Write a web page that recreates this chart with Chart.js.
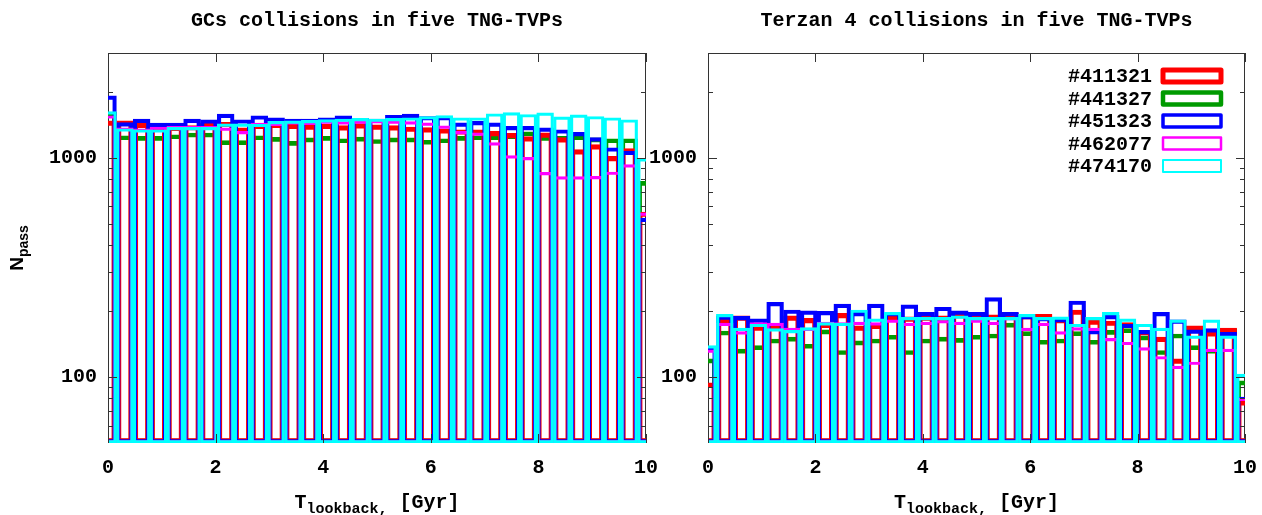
<!DOCTYPE html>
<html>
<head>
<meta charset="utf-8">
<script src="https://cdn.jsdelivr.net/npm/chart.js@4/dist/chart.umd.min.js"></script>
<style>
  body { margin: 0; background: #fff; }
  #wrap { position: relative; width: 1262px; height: 515px; }
  canvas { position: absolute; top: 0; }
  #gcChart { left: 0; }
  #terChart { left: 631px; }
</style>
</head>
<body>
<div id="wrap">
  <canvas id="gcChart" width="660" height="515"></canvas>
  <canvas id="terChart" width="631" height="515"></canvas>
</div>
<script>
// bin centres in Gyr (bin width 0.3125, end bins are half-cut by the x range)
const binCentres = [0, 0.3125, 0.625, 0.9375, 1.25, 1.5625, 1.875, 2.1875, 2.5, 2.8125,
  3.125, 3.4375, 3.75, 4.0625, 4.375, 4.6875, 5, 5.3125, 5.625, 5.9375,
  6.25, 6.5625, 6.875, 7.1875, 7.5, 7.8125, 8.125, 8.4375, 8.75, 9.0625,
  9.375, 9.6875, 10];

const haloIds = ['#411321', '#441327', '#451323', '#462077', '#474170'];
const haloColours = ['#ff0000', '#009a00', '#0000ff', '#ff00ff', '#00ffff'];

// GCs collisions, N_pass per bin
const gc411321 = [1470, 1470, 1438, 1390, 1390, 1402, 1438, 1450, 1367, 1420, 1438, 1420, 1410, 1420, 1400, 1430, 1410,
  1400, 1380, 1370, 1354, 1340, 1340, 1317, 1290, 1246, 1298, 1233, 1087, 1146, 1014, 1100, 565];
const gc441327 = [1610, 1258, 1250, 1250, 1272, 1295, 1295, 1195, 1195, 1258, 1237, 1186, 1230, 1250, 1220, 1240, 1210,
  1230, 1230, 1200, 1220, 1250, 1258, 1258, 1272, 1313, 1250, 1250, 1258, 1230, 1220, 1220, 780];
const gc451323 = [1914, 1445, 1499, 1438, 1438, 1499, 1488, 1580, 1488, 1552, 1520, 1500, 1500, 1520, 1550, 1510, 1500,
  1560, 1580, 1540, 1540, 1440, 1463, 1440, 1388, 1388, 1367, 1340, 1303, 1233, 1110, 1070, 530];
const gc462077 = [1552, 1367, 1354, 1380, 1388, 1388, 1388, 1367, 1317, 1438, 1438, 1460, 1450, 1470, 1460, 1470, 1480,
  1470, 1460, 1440, 1397, 1317, 1298, 1170, 1021, 1003, 857, 820, 820, 822, 860, 930, 560];
const gc474170 = [1620, 1354, 1340, 1340, 1373, 1373, 1373, 1426, 1426, 1420, 1463, 1470, 1480, 1490, 1500, 1510, 1500,
  1510, 1520, 1540, 1556, 1520, 1520, 1585, 1605, 1573, 1600, 1535, 1568, 1540, 1520, 1488, 990];

// Terzan 4 collisions, N_pass per bin
const ter411321 = [94, 185, 190, 171, 174, 190, 185, 176, 195, 171, 174, 190, 188, 190, 190, 195, 192,
  192, 195, 193, 193, 185, 202, 182, 180, 177, 163, 152, 121, 171, 161, 167, 78];
const ter441327 = [121, 162, 134, 139, 149, 152, 141, 164, 132, 146, 149, 155, 132, 149, 152, 150, 155,
  157, 176, 161, 147, 149, 161, 147, 163, 166, 154, 132, 157, 139, 134, 166, 96];
const ter451323 = [137, 190, 189, 184, 219, 202, 200, 199, 215, 197, 215, 197, 213, 197, 208, 200, 197,
  230, 197, 191, 187, 185, 222, 163, 191, 174, 163, 197, 182, 164, 166, 160, 81];
const ter462077 = [133, 176, 161, 177, 176, 167, 167, 178, 177, 178, 177, 182, 176, 178, 181, 178, 182,
  178, 187, 167, 176, 161, 168, 167, 150, 144, 136, 124, 112, 117, 134, 134, 80];
const ter474170 = [139, 193, 167, 174, 166, 163, 168, 177, 176, 202, 184, 197, 187, 187, 187, 190, 187,
  187, 187, 193, 187, 188, 174, 187, 197, 184, 174, 167, 182, 154, 182, 154, 103];

const xTicks = [0, 2, 4, 6, 8, 10];
const yMajorTicks = [100, 1000];
const yMinorTicks = [60, 70, 80, 90, 200, 300, 400, 500, 600, 700, 800, 900, 2000];

// line widths and stacking (green under red, cyan on top)
const lineWidths = [4.5, 4, 3.5, 2.5, 2.5];
const drawOrder = [4, 5, 3, 2, 1];

const MONO = '"Liberation Mono", "DejaVu Sans Mono", monospace';
const tickFont = { family: MONO, size: 20, weight: 'bold' };

function makeDatasets(series) {
  return series.map((vals, i) => ({
    label: haloIds[i],
    data: binCentres.map((x, k) => ({ x: x, y: vals[k] })),
    borderColor: haloColours[i],
    backgroundColor: 'rgba(0,0,0,0)',
    borderWidth: lineWidths[i],
    borderSkipped: false,
    grouped: false,
    order: drawOrder[i],
    clip: 0,
    barPercentage: 1,
    categoryPercentage: 1
  }));
}

// border box and inward gnuplot-style ticks
const frameTicks = {
  id: 'frameTicks',
  beforeDatasetsDraw(chart) {
    const { ctx, chartArea: a } = chart;
    ctx.save();
    ctx.strokeStyle = '#333';
    ctx.lineWidth = 1;
    ctx.strokeRect(a.left + 0.5, a.top + 0.5, a.right - a.left - 1, a.bottom - a.top - 1);
    ctx.restore();
  },
  afterDatasetsDraw(chart) {
    const { ctx, chartArea: a, scales } = chart;
    ctx.save();
    ctx.strokeStyle = '#333';
    ctx.lineWidth = 1;
    ctx.beginPath();
    const yTick = (v, len) => {
      const py = Math.round(scales.y.getPixelForValue(v)) + 0.5;
      ctx.moveTo(a.left, py); ctx.lineTo(a.left + len, py);
      ctx.moveTo(a.right, py); ctx.lineTo(a.right - len, py);
    };
    yMajorTicks.forEach(v => yTick(v, 9));
    yMinorTicks.forEach(v => yTick(v, 5));
    xTicks.forEach(v => {
      const px = Math.round(scales.x.getPixelForValue(v)) + 0.5;
      ctx.moveTo(px, a.top); ctx.lineTo(px, a.top + 9);
      ctx.moveTo(px, a.bottom); ctx.lineTo(px, a.bottom - 9);
    });
    ctx.stroke();
    ctx.restore();
  }
};

function panelText(title, withYLabel) {
  return {
    id: 'panelText',
    afterDraw(chart) {
      const { ctx, chartArea: a } = chart;
      const cx = (a.left + a.right) / 2;
      const big = 'bold 20px ' + MONO;
      const small = 'bold 15px ' + MONO;
      ctx.save();
      ctx.fillStyle = '#000';
      ctx.textBaseline = 'alphabetic';
      ctx.textAlign = 'center';
      ctx.font = big;
      ctx.fillText(title, cx, 26);

      // T_lookback, [Gyr]
      ctx.textAlign = 'left';
      ctx.font = big;
      const wT = ctx.measureText('T').width;
      const wRest = ctx.measureText(' [Gyr]').width;
      ctx.font = small;
      const wSub = ctx.measureText('lookback,').width;
      const x0 = cx - (wT + wSub + wRest) / 2;
      ctx.font = big;
      ctx.fillText('T', x0, 508);
      ctx.font = small;
      ctx.fillText('lookback,', x0 + wT, 513);
      ctx.font = big;
      ctx.fillText(' [Gyr]', x0 + wT + wSub, 508);

      if (withYLabel) {
        // N_pass, centred on the plot height
        const sans = '"Liberation Sans", Arial, sans-serif';
        ctx.font = 'bold 19px ' + sans;
        const wN = ctx.measureText('N').width;
        ctx.font = 'bold 14px ' + sans;
        const wP = ctx.measureText('pass').width;
        const yc = (a.top + a.bottom) / 2;
        ctx.translate(23, yc + (wN + wP) / 2);
        ctx.rotate(-Math.PI / 2);
        ctx.font = 'bold 19px ' + sans;
        ctx.fillText('N', 0, 0);
        ctx.font = 'bold 14px ' + sans;
        ctx.fillText('pass', wN, 5);
      }
      ctx.restore();
    }
  };
}

const legendWidths = [5, 4.5, 3.5, 2.5, 2];
const keyBox = {
  id: 'keyBox',
  afterDraw(chart) {
    const ctx = chart.ctx;
    ctx.save();
    ctx.font = 'bold 20px ' + MONO;
    ctx.textAlign = 'right';
    ctx.textBaseline = 'middle';
    ctx.lineJoin = 'round';
    haloIds.forEach((id, i) => {
      const yc = 76 + i * 22.5;
      ctx.fillStyle = '#000';
      ctx.fillText(id, 521, yc + 1);
      ctx.strokeStyle = haloColours[i];
      ctx.lineWidth = legendWidths[i];
      ctx.strokeRect(532, yc - 6, 58, 12);
    });
    ctx.restore();
  }
};

function makeOptions(yWidth, padRight) {
  return {
    responsive: false,
    animation: false,
    events: [],
    layout: { padding: { top: 53, right: padRight, bottom: 0, left: 0 } },
    plugins: { legend: { display: false }, tooltip: { enabled: false } },
    scales: {
      x: {
        type: 'linear', min: 0, max: 10, offset: false,
        grid: { display: false, drawTicks: false },
        border: { display: false },
        ticks: { stepSize: 2, padding: 13, color: '#000', font: tickFont, maxRotation: 0 },
        afterFit: s => { s.height = 72; s.paddingLeft = 0; s.paddingRight = 0; }
      },
      y: {
        type: 'logarithmic', min: 50, max: 3000,
        grid: { display: false, drawTicks: false },
        border: { display: false },
        ticks: {
          autoSkip: false, padding: 11, color: '#000', font: tickFont,
          callback: v => yMajorTicks.some(t => Math.abs(t - v) < 1e-6) ? String(v) : null
        },
        afterFit: s => { s.width = yWidth; s.paddingTop = 0; s.paddingBottom = 0; }
      }
    }
  };
}

new Chart(document.getElementById('gcChart'), {
  type: 'bar',
  data: { datasets: makeDatasets([gc411321, gc441327, gc451323, gc462077, gc474170]) },
  options: makeOptions(108, 14),
  plugins: [frameTicks, panelText('GCs collisions in five TNG-TVPs', true)]
});

new Chart(document.getElementById('terChart'), {
  type: 'bar',
  data: { datasets: makeDatasets([ter411321, ter441327, ter451323, ter462077, ter474170]) },
  options: makeOptions(77, 17),
  plugins: [frameTicks, panelText('Terzan 4 collisions in five TNG-TVPs', false), keyBox]
});
</script>
</body>
</html>
